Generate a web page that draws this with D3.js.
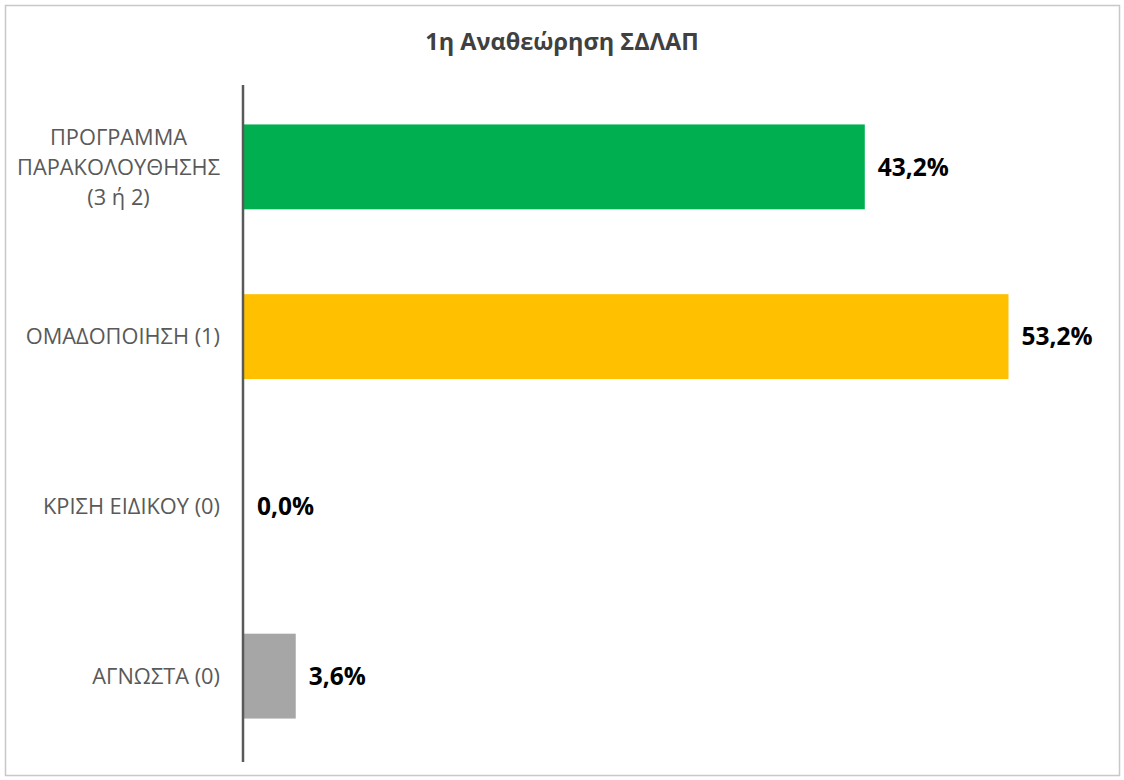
<!DOCTYPE html>
<html><head><meta charset="utf-8">
<script src="https://cdn.jsdelivr.net/npm/d3@7"></script>
<style>body{margin:0;background:#fff}svg{display:block}</style>
</head><body>
<svg id="c" width="1124" height="780"></svg>
<script>
const categories = [["ΠΡΟΓΡΑΜΜΑ","ΠΑΡΑΚΟΛΟΥΘΗΣΗΣ","(3 ή 2)"],["ΟΜΑΔΟΠΟΙΗΣΗ (1)"],["ΚΡΙΣΗ ΕΙΔΙΚΟΥ (0)"],["ΑΓΝΩΣΤΑ (0)"]];
const values = [43.2, 53.2, 0.0, 3.6];
const colors = ["#00B050","#FFC000","#A6A6A6","#A6A6A6"];
const title = "1η Αναθεώρηση ΣΔΛΑΠ";

const svg = d3.select("#c");
svg.append("rect").attr("x",5.5).attr("y",5.5).attr("width",1114).attr("height",770)
  .attr("fill","#fff").attr("stroke","#C8C8C8").attr("stroke-width",1.5);
svg.append("text").attr("x",562).attr("y",50).attr("text-anchor","middle")
  .attr("font-family","Open Sans, sans-serif").attr("font-weight","bold").attr("font-size",23.5)
  .attr("fill","#404040").text(title);

const idx = categories.map((d,i)=>i);
const x = d3.scaleLinear().domain([0,60]).range([244, 244+60*14.37]);
const y = d3.scaleBand().domain(idx).range([82,761]).paddingInner(0.5).paddingOuter(0.25);

svg.selectAll("rect.bar").data(values).join("rect").attr("class","bar")
  .attr("x",x(0)).attr("y",(d,i)=>y(i)).attr("width",d=>x(d)-x(0)).attr("height",y.bandwidth())
  .attr("fill",(d,i)=>colors[i]);

svg.selectAll("text.val").data(values).join("text").attr("class","val")
  .attr("x",d=>x(d)+13).attr("y",(d,i)=>y(i)+y.bandwidth()/2).attr("dy","0.36em")
  .attr("font-family","Open Sans, sans-serif").attr("font-weight","bold").attr("font-size",24.5)
  .attr("fill","#000").text(d=>d.toFixed(1).replace(".",",")+"%");

const lab = svg.selectAll("text.lab").data(categories).join("text").attr("class","lab")
  .attr("font-family","Open Sans, sans-serif").attr("font-size",21.8).attr("fill","#595959")
  .attr("text-anchor","end");
lab.each(function(lines,i){
  const t = d3.select(this);
  const cy = y(i)+y.bandwidth()/2;
  const spans = lines.map((l,j)=>
    t.append("tspan").attr("x",220).attr("y",cy+(j-(lines.length-1)/2)*30).attr("dy","0.36em").text(l));
  if (lines.length > 1) {
    const maxW = d3.max(spans, s => s.node().getComputedTextLength());
    t.attr("text-anchor","middle");
    spans.forEach(s => s.attr("x", 220 - maxW/2));
  }
});

svg.append("line").attr("x1",243).attr("x2",243).attr("y1",85).attr("y2",762)
  .attr("stroke","#595959").attr("stroke-width",2.5);
</script>
</body></html>
